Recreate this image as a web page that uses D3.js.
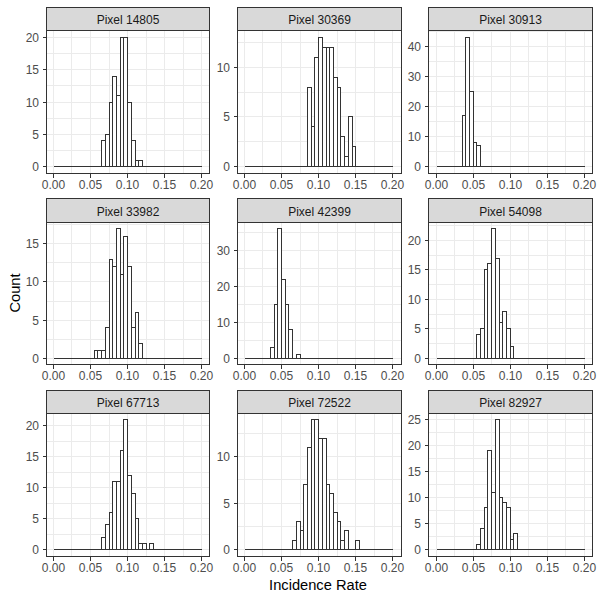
<!DOCTYPE html>
<html>
<head>
<meta charset="utf-8">
<script src="https://cdn.jsdelivr.net/npm/d3@7"></script>
<style>
  html, body { margin: 0; padding: 0; background: #fff; }
  svg { display: block; }
  text { font-family: "Liberation Sans", Arial, sans-serif; }
</style>
</head>
<body>
<svg width="600" height="600"></svg>
<script>
// Panel names, in reading order
const pixels = ["Pixel 14805", "Pixel 30369", "Pixel 30913", "Pixel 33982", "Pixel 42399",
    "Pixel 54098", "Pixel 67713", "Pixel 72522", "Pixel 82927"];

// Lower edge of the first non-empty bin in each panel
const firstBin = [0.065, 0.085, 0.035, 0.055, 0.035, 0.055, 0.065, 0.065, 0.055];

// Counts per bin, starting at firstBin
const counts14805 = [4, 5, 10, 14, 11, 20, 20, 10, 4, 1, 1];
const counts30369 = [8, 4, 11, 13, 12, 12, 12, 9, 8, 3, 1, 5, 2];
const counts30913 = [17, 43, 25, 8, 7];
const counts33982 = [1, 1, 1, 4, 13, 12, 17, 11, 16, 12, 4, 6, 2];
const counts42399 = [3, 15, 36, 22, 15, 8, 0, 1];
const counts54098 = [4, 5, 15, 16, 22, 17, 6, 8, 5, 2];
const counts67713 = [2, 4, 6, 11, 11, 16, 21, 12, 9, 5, 1, 1, 0, 1];
const counts72522 = [1, 3, 2, 7, 11, 14, 14, 12, 12, 7, 6, 4, 3, 1, 2, 0, 0, 1];
const counts82927 = [1, 4, 8, 19, 11, 25, 10, 9, 8, 2, 3];
const allCounts = [counts14805, counts30369, counts30913, counts33982, counts42399,
    counts54098, counts67713, counts72522, counts82927];

// Tick step on the y axis of each panel
const yStep = [5, 5, 10, 5, 10, 5, 5, 5, 5];

const xTicks = [0, 0.05, 0.1, 0.15, 0.2];
const xMinor = [0.025, 0.075, 0.125, 0.175];
const binWidth = 0.005;
const nBins = 40;

// Facet layout: borders on pixel centres, scale ranges slightly different
const colX = [[46.5, 209.5], [237.5, 401.5], [428.5, 592.5]];
const rowY = [[7.5, 30.5, 173.5], [198.5, 222.5, 364.5], [390.5, 413.5, 556.5]];
const colStart = [46, 237, 428.6];
const panelWidth = 163.3;
const rowRange = [[173, 31], [364.9, 222], [556, 413]];

const svg = d3.select("svg");
const snap = (v) => Math.floor(v) + 0.5;

pixels.forEach((name, k) => {
    const c = k % 3, r = Math.floor(k / 3);
    const col = colX[c], row = rowY[r];
    const counts = allCounts[k];
    const maxCount = d3.max(counts);

    const x = d3.scaleLinear().domain([-0.01, 0.21]).range([colStart[c], colStart[c] + panelWidth]);
    const y = d3.scaleLinear()
        .domain([-0.05 * maxCount, 1.05 * maxCount])
        .range(rowRange[r]);

    const yMajor = d3.range(0, maxCount + 1e-9, yStep[k]);
    const yMinor = d3.range(yStep[k] / 2, 1.05 * maxCount, yStep[k]);

    const g = svg.append("g").attr("shape-rendering", "crispEdges");

    // Grid
    const hLine = (vals) => g.append("g").selectAll("line").data(vals).enter().append("line")
        .attr("x1", col[0]).attr("x2", col[1])
        .attr("y1", (d) => snap(y(d))).attr("y2", (d) => snap(y(d)))
        .attr("stroke", "#ebebeb");
    const vLine = (vals) => g.append("g").selectAll("line").data(vals).enter().append("line")
        .attr("y1", row[1]).attr("y2", row[2])
        .attr("x1", (d) => snap(x(d))).attr("x2", (d) => snap(x(d)))
        .attr("stroke", "#ebebeb");
    hLine(yMinor);
    vLine(xMinor);
    hLine(yMajor);
    vLine(xTicks);

    // Every bin gets a path, empty ones collapse into the baseline
    const bins = d3.range(nBins).map((i) => {
        const j = Math.round((i * binWidth - firstBin[k]) / binWidth);
        return { x0: i * binWidth, n: counts[j] || 0 };
    });
    g.append("g").selectAll("path").data(bins).enter().append("path")
        .attr("d", (d) => {
            const left = snap(x(d.x0)), right = snap(x(d.x0 + binWidth));
            return `M${left},${snap(y(0))}V${snap(y(d.n))}H${right}V${snap(y(0))}Z`;
        })
        .attr("fill", "#fff")
        .attr("stroke", "#333")
        .attr("stroke-width", 1);

    // Panel border and strip
    g.append("rect")
        .attr("x", col[0]).attr("y", row[1])
        .attr("width", col[1] - col[0]).attr("height", row[2] - row[1])
        .attr("fill", "none").attr("stroke", "#333");
    g.append("rect")
        .attr("x", col[0]).attr("y", row[0])
        .attr("width", col[1] - col[0]).attr("height", row[1] - row[0])
        .attr("fill", "#d9d9d9").attr("stroke", "#333");
    svg.append("text")
        .attr("x", (col[0] + col[1]) / 2)
        .attr("y", (row[0] + row[1]) / 2 + 5)
        .attr("text-anchor", "middle")
        .attr("font-size", 12)
        .attr("fill", "#1a1a1a")
        .text(name);

    // Axes
    const xAxis = svg.append("g")
        .attr("transform", `translate(0,${row[2]})`)
        .call(d3.axisBottom(x).tickValues(xTicks).tickFormat(d3.format(".2f")).tickSize(4).tickPadding(3));
    xAxis.selectAll(".tick").attr("transform", (d) => `translate(${snap(x(d))},0)`);
    const yAxis = svg.append("g")
        .attr("transform", `translate(${col[0]},0)`)
        .call(d3.axisLeft(y).tickValues(yMajor).tickFormat(d3.format("d")).tickSize(4).tickPadding(3.5));
    yAxis.selectAll(".tick").attr("transform", (d) => `translate(0,${snap(y(d))})`);
    yAxis.selectAll("text").attr("dy", "0.4em");
    [xAxis, yAxis].forEach((a) => {
        a.select(".domain").remove();
        a.selectAll("line").attr("stroke", "#333").attr("shape-rendering", "crispEdges");
        a.selectAll("text").attr("fill", "#4d4d4d").attr("font-size", 12)
            .attr("font-family", '"Liberation Sans", Arial, sans-serif');
    });
});

// Axis titles
svg.append("text")
    .attr("x", 318).attr("y", 590)
    .attr("text-anchor", "middle")
    .attr("font-size", 14.67)
    .attr("fill", "#000")
    .text("Incidence Rate");
svg.append("text")
    .attr("transform", "translate(19.5,293) rotate(-90)")
    .attr("text-anchor", "middle")
    .attr("font-size", 14.67)
    .attr("fill", "#000")
    .text("Count");
</script>
</body>
</html>
